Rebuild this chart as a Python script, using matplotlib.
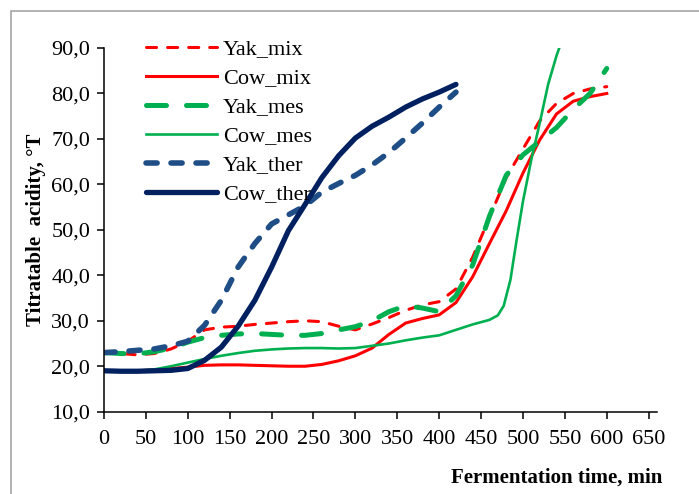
import matplotlib
matplotlib.use("Agg")
import matplotlib.pyplot as plt
from matplotlib.patches import Rectangle

plt.rcParams['font.family'] = ['Liberation Serif', 'DejaVu Serif']

# fermentation time, min
t_long = [0, 20, 40, 60, 80, 100, 120, 140, 160, 180, 200, 220, 240, 260, 280, 300,
          320, 340, 360, 380, 400, 420, 440, 460, 480, 500, 520, 540, 560, 580, 600]
t_ther = [0, 20, 40, 60, 80, 100, 120, 140, 160, 180, 200, 220, 240, 260, 280, 300,
          320, 340, 360, 380, 400, 420]
t_cow_mes = [0, 20, 40, 60, 80, 100, 120, 140, 160, 180, 200, 220, 240, 260, 280, 300,
             320, 340, 360, 380, 400, 420, 440, 460, 470, 477, 485, 492, 500, 510, 520, 530, 540, 550]

# titratable acidity, °T
yak_mix = [23.0, 22.8, 22.5, 22.8, 23.8, 25.5, 28.0, 28.6, 28.8, 29.2, 29.5, 29.8, 30.0, 29.8, 28.8, 28.0,
           29.3, 30.7, 32.3, 33.5, 34.2, 37.0, 44.0, 52.7, 61.5, 67.8, 74.0, 77.8, 80.0, 81.0, 81.5]
cow_mix = [19.0, 19.0, 19.0, 19.2, 19.5, 19.8, 20.2, 20.3, 20.3, 20.2, 20.1, 20.0, 20.0, 20.4, 21.2, 22.3,
           24.0, 27.0, 29.5, 30.5, 31.3, 34.0, 39.7, 47.0, 54.2, 62.5, 69.8, 75.5, 78.3, 79.3, 80.0]
yak_mes = [23.0, 22.8, 22.7, 23.2, 24.0, 25.3, 26.3, 26.8, 27.1, 27.2, 27.0, 26.8, 26.8, 27.2, 28.0, 28.7,
           30.0, 32.0, 33.3, 32.8, 32.0, 35.5, 42.3, 53.0, 62.0, 66.5, 69.5, 72.5, 76.5, 80.0, 85.5]
cow_mes = [19.0, 19.0, 19.0, 19.3, 20.0, 20.8, 21.6, 22.3, 22.9, 23.4, 23.7, 23.9, 24.0, 24.0, 23.9, 24.0,
           24.5, 25.0, 25.7, 26.3, 26.8, 28.0, 29.2, 30.2, 31.2, 33.3, 39.0, 47.3, 56.3, 65.5, 73.5, 82.0, 88.3, 93.5]
yak_ther = [23.0, 23.2, 23.5, 23.8, 24.5, 25.5, 29.0, 34.5, 41.8, 47.0, 51.3, 53.3, 55.3, 58.3, 60.2, 62.0,
            64.3, 67.0, 70.2, 73.5, 77.0, 80.3]
cow_ther = [19.0, 18.9, 18.9, 19.0, 19.1, 19.5, 21.3, 24.2, 28.8, 34.5, 41.8, 49.8, 55.6, 61.5, 66.3, 70.2,
            72.8, 74.8, 77.0, 78.8, 80.3, 82.0]

fig = plt.figure(figsize=(6.99, 4.94), dpi=100)
ax = fig.add_axes([0.1488, 0.1666, 0.7912, 0.7362])

fig.patches.append(Rectangle((11 / 699, -0.1), 1.2, 1 - 11 / 494 + 0.1, transform=fig.transFigure,
                             fill=False, edgecolor='#A6A6A6', linewidth=1.2))

ax.plot(t_long, yak_mix, color='#FF0000', lw=2.2, ls=(0, (3.3, 3.6)), dash_capstyle='round', label='Yak_mix')
ax.plot(t_long, cow_mix, color='#FF0000', lw=2.2, label='Cow_mix')
ax.plot(t_long, yak_mes, color='#00B050', lw=3.6, ls=(0, (4, 4)), dash_capstyle='round', label='Yak_mes')
ax.plot(t_cow_mes, cow_mes, color='#00B050', lw=1.9, label='Cow_mes')
ax.plot(t_ther, yak_ther, color='#1F4E86', lw=4.0, ls=(0, (2, 2.5)), dash_capstyle='round', label='Yak_ther')
ax.plot(t_ther, cow_ther, color='#002060', lw=3.8, solid_capstyle='round', label='Cow_ther')

ax.set_xlim(0, 660)
ax.set_ylim(10, 90)
ax.set_xticks(range(0, 651, 50))
ax.set_yticks(range(10, 91, 10))
ax.set_yticklabels([f'{v},0' for v in range(10, 91, 10)])
ax.spines['top'].set_visible(False)
ax.spines['right'].set_visible(False)
for s in ('left', 'bottom'):
    ax.spines[s].set_linewidth(1.1)
ax.tick_params(axis='both', direction='out', length=5, width=1.1, labelsize=16, colors='black')
ax.tick_params(axis='x', pad=8)
ax.tick_params(axis='y', pad=5)

ax.set_ylabel('Titratable  acidity, °T', fontsize=15, fontweight='bold', labelpad=4)
fig.text(662 / 699, 1 - 478 / 494, 'Fermentation time, min', fontsize=15, fontweight='bold',
         ha='right', va='center')

ax.legend(loc='upper left', bbox_to_anchor=(146 / 699, 1 - 39 / 494), bbox_transform=fig.transFigure,
          frameon=False, fontsize=16, handlelength=3.2, handletextpad=0.25, labelspacing=0.38,
          borderpad=0, borderaxespad=0)

fig.savefig('out.png', dpi=100)
